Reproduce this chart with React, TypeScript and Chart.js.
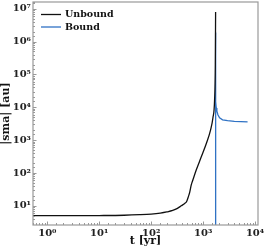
import React, { useEffect, useRef } from "react";
import { Chart, registerables } from "chart.js";

Chart.register(...registerables);

// Unbound orbit: time [yr] and |sma| [au]
const unboundT = [0.5, 2, 10, 30, 60, 100, 150, 200, 260, 320, 380, 441, 482, 526, 550, 593, 637, 740, 923, 1167, 1394, 1543, 1664, 1718, 1740];
const unboundA = [5.0, 5.0, 5.05, 5.15, 5.35, 5.6, 6.0, 6.5, 7.2, 8.3, 10, 11.8, 13.5, 20, 25, 44, 62, 125, 310, 830, 2050, 4700, 17000, 200000, 8000000];

// Bound orbit
const boundT = [1740, 1741, 1744, 1790, 1840, 1928, 2075, 2370, 2960, 4000, 7180];
const boundA = [0.5, 1900000, 15000, 9500, 7600, 5900, 4800, 4150, 3900, 3700, 3600];

const seriesNames = ["Unbound", "Bound"];
const seriesColors = ["#111111", "#2f72c4"];

const xMin = 0.53;
const xMax = 11400;
const yMin = 2.6;
const yMax = 1.6e7;

const FONT = "'DejaVu Serif', serif";
const SUP = "⁰¹²³⁴⁵⁶⁷⁸⁹";

function powLabel(v: number): string {
  const l = Math.log10(v);
  const r = Math.round(l);
  if (Math.abs(l - r) > 1e-6) return "";
  const s = String(r)
    .split("")
    .map((c) => (c === "-" ? "⁻" : SUP[Number(c)]))
    .join("");
  return "10" + s;
}

const decorPlugin = {
  id: "decor",
  afterDraw(chart: any) {
    const ctx = chart.ctx;
    const { left, right, top, bottom } = chart.chartArea;
    ctx.save();
    ctx.strokeStyle = "#999999";
    ctx.lineWidth = 1;
    const xs = chart.scales.x;
    const ys = chart.scales.y;
    xs.ticks.forEach((t: any) => {
      const px = Math.round(xs.getPixelForValue(t.value)) + 0.5;
      if (px < left || px > right) return;
      const len = powLabel(t.value) ? 3.5 : 2;
      ctx.beginPath();
      ctx.moveTo(px, bottom);
      ctx.lineTo(px, bottom - len);
      ctx.stroke();
    });
    ys.ticks.forEach((t: any) => {
      const py = Math.round(ys.getPixelForValue(t.value)) + 0.5;
      if (py < top || py > bottom) return;
      const len = powLabel(t.value) ? 3.5 : 2;
      ctx.beginPath();
      ctx.moveTo(left, py);
      ctx.lineTo(left + len, py);
      ctx.stroke();
    });
    ctx.strokeStyle = "#999999";
    ctx.lineWidth = 1.2;
    ctx.strokeRect(left, top, right - left, bottom - top);
    ctx.font = "bold 9.5px " + FONT;
    ctx.textBaseline = "middle";
    ctx.textAlign = "left";
    const rows = [14.5, 27];
    seriesNames.forEach((name, i) => {
      const y = rows[i];
      ctx.strokeStyle = seriesColors[i];
      ctx.lineWidth = 1.3;
      ctx.beginPath();
      ctx.moveTo(left + 8, y);
      ctx.lineTo(left + 28, y);
      ctx.stroke();
      ctx.fillStyle = "#111111";
      ctx.fillText(name, left + 32, y + 0.5);
    });
    ctx.restore();
  },
};

function zeroPad(s: any) {
  s.paddingTop = 0;
  s.paddingBottom = 0;
  s.paddingLeft = 0;
  s.paddingRight = 0;
}

export default function App() {
  const ref = useRef<HTMLCanvasElement>(null);
  useEffect(() => {
    if (!ref.current) return;
    const chart = new Chart(ref.current, {
      type: "scatter",
      data: {
        datasets: [
          {
            label: seriesNames[0],
            data: unboundT.map((t, i) => ({ x: t, y: unboundA[i] })),
            borderColor: seriesColors[0],
            backgroundColor: seriesColors[0],
            borderWidth: 1.3,
            showLine: true,
            pointRadius: 0,
            cubicInterpolationMode: "monotone",
          },
          {
            label: seriesNames[1],
            data: boundT.map((t, i) => ({ x: t, y: boundA[i] })),
            borderColor: seriesColors[1],
            backgroundColor: seriesColors[1],
            borderWidth: 1.3,
            showLine: true,
            pointRadius: 0,
            tension: 0,
          },
        ],
      },
      options: {
        animation: false,
        responsive: false,
        layout: { padding: { top: 2, right: 8, left: 0, bottom: 0 } },
        plugins: { legend: { display: false }, tooltip: { enabled: false } },
        scales: {
          x: {
            type: "logarithmic",
            min: xMin,
            max: xMax,
            grid: { display: false, drawTicks: false },
            border: { display: false },
            ticks: {
              autoSkip: false,
              maxRotation: 0,
              padding: 2,
              color: "#222222",
              font: { family: FONT, size: 10, weight: "bold" },
              callback: (v: any) => powLabel(Number(v)),
            },
            title: {
              display: true,
              text: "t [yr]",
              color: "#111111",
              font: { family: FONT, size: 11, weight: "bold" },
              padding: { top: 0, bottom: 3 },
            },
            afterFit: (s: any) => {
              s.height = 26;
              zeroPad(s);
            },
          },
          y: {
            type: "logarithmic",
            min: yMin,
            max: yMax,
            grid: { display: false, drawTicks: false },
            border: { display: false },
            ticks: {
              autoSkip: false,
              padding: 2,
              color: "#222222",
              font: { family: FONT, size: 10, weight: "bold" },
              callback: (v: any) => powLabel(Number(v)),
            },
            title: {
              display: true,
              text: "|sma| [au]",
              color: "#111111",
              font: { family: FONT, size: 11, weight: "bold" },
              padding: { top: 0, bottom: 0 },
            },
            afterFit: (s: any) => {
              s.width = 33;
              zeroPad(s);
            },
          },
        },
      } as any,
      plugins: [decorPlugin],
    });
    return () => chart.destroy();
  }, []);
  return (
    <div style={{ position: "absolute", left: 0, top: 0, width: 266, height: 251, background: "#ffffff" }}>
      <canvas ref={ref} width={266} height={251} />
    </div>
  );
}
